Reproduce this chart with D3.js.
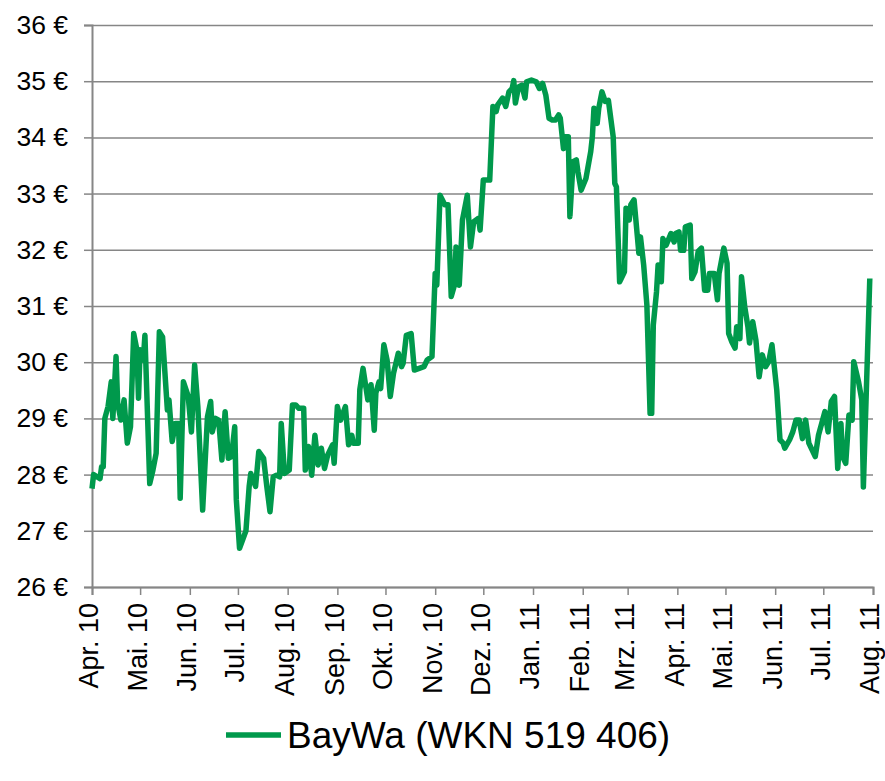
<!DOCTYPE html>
<html>
<head>
<meta charset="utf-8">
<script src="https://cdn.jsdelivr.net/npm/d3@7"></script>
<style>
  body { margin: 0; background: #fff; }
  text { font-family: "Liberation Sans", Arial, sans-serif; fill: #000; }
</style>
</head>
<body>
<div id="chart"></div>
<script>
// BayWa share price, Apr 2010 - Aug 2011
const dates = [
  "2010-04-01","2010-04-02","2010-04-06","2010-04-07","2010-04-08","2010-04-09","2010-04-11","2010-04-13","2010-04-14","2010-04-16",
  "2010-04-17","2010-04-19","2010-04-21","2010-04-23","2010-04-25","2010-04-27","2010-04-29","2010-04-30","2010-05-01","2010-05-03",
  "2010-05-04","2010-05-07","2010-05-09","2010-05-11","2010-05-13","2010-05-15","2010-05-18","2010-05-19","2010-05-21","2010-05-23",
  "2010-05-25","2010-05-26","2010-05-28","2010-05-31","2010-06-02","2010-06-04","2010-06-06","2010-06-09","2010-06-12","2010-06-14",
  "2010-06-15","2010-06-17","2010-06-19","2010-06-21","2010-06-23","2010-06-25","2010-06-27","2010-06-29","2010-06-30","2010-07-02",
  "2010-07-06","2010-07-08","2010-07-09","2010-07-12","2010-07-14","2010-07-17","2010-07-19","2010-07-21","2010-07-23","2010-07-25",
  "2010-07-27","2010-07-28","2010-07-30","2010-08-02","2010-08-04","2010-08-06","2010-08-08","2010-08-11","2010-08-12","2010-08-14",
  "2010-08-16","2010-08-18","2010-08-20","2010-08-22","2010-08-24","2010-08-26","2010-08-29","2010-08-30","2010-09-01","2010-09-03",
  "2010-09-06","2010-09-08","2010-09-10","2010-09-11","2010-09-14","2010-09-15","2010-09-17","2010-09-20","2010-09-22","2010-09-24",
  "2010-09-25","2010-09-27","2010-09-28","2010-09-30","2010-10-02","2010-10-04","2010-10-06","2010-10-09","2010-10-11","2010-10-12",
  "2010-10-14","2010-10-17","2010-10-19","2010-10-22","2010-10-25","2010-10-27","2010-10-30","2010-11-01","2010-11-02","2010-11-04",
  "2010-11-07","2010-11-09","2010-11-11","2010-11-13","2010-11-14","2010-11-16","2010-11-18","2010-11-21","2010-11-23","2010-11-25",
  "2010-11-28","2010-11-29","2010-12-01","2010-12-05","2010-12-07","2010-12-09","2010-12-10","2010-12-13","2010-12-15","2010-12-17",
  "2010-12-19","2010-12-20","2010-12-21","2010-12-23","2010-12-25","2010-12-27","2010-12-28","2010-12-31","2011-01-03","2011-01-05",
  "2011-01-07","2011-01-09","2011-01-11","2011-01-13","2011-01-15","2011-01-17","2011-01-18","2011-01-20","2011-01-21","2011-01-23",
  "2011-01-24","2011-01-26","2011-01-28","2011-01-29","2011-01-31","2011-02-03","2011-02-06","2011-02-07","2011-02-08","2011-02-10",
  "2011-02-11","2011-02-13","2011-02-15","2011-02-17","2011-02-20","2011-02-21","2011-02-22","2011-02-24","2011-02-25","2011-02-27",
  "2011-02-28","2011-03-01","2011-03-02","2011-03-03","2011-03-05","2011-03-07","2011-03-08","2011-03-09","2011-03-11","2011-03-13",
  "2011-03-15","2011-03-16","2011-03-17","2011-03-19","2011-03-20","2011-03-22","2011-03-23","2011-03-25","2011-03-28","2011-03-30",
  "2011-03-31","2011-04-02","2011-04-03","2011-04-05","2011-04-06","2011-04-09","2011-04-10","2011-04-12","2011-04-14","2011-04-16",
  "2011-04-18","2011-04-20","2011-04-21","2011-04-24","2011-04-26","2011-04-27","2011-04-30","2011-05-02","2011-05-03","2011-05-05",
  "2011-05-07","2011-05-08","2011-05-10","2011-05-11","2011-05-13","2011-05-15","2011-05-16","2011-05-18","2011-05-20","2011-05-22",
  "2011-05-24","2011-05-26","2011-05-28","2011-05-30","2011-06-02","2011-06-04","2011-06-06","2011-06-07","2011-06-10","2011-06-12",
  "2011-06-14","2011-06-16","2011-06-18","2011-06-20","2011-06-22","2011-06-24","2011-06-26","2011-06-28","2011-06-30","2011-07-02",
  "2011-07-04","2011-07-06","2011-07-08","2011-07-10","2011-07-12","2011-07-13","2011-07-15","2011-07-17","2011-07-19","2011-07-20",
  "2011-07-23","2011-07-25","2011-07-26","2011-07-30"
];
const prices = [
  27.75,28.00,27.93,28.14,28.14,29.00,29.21,29.65,29.00,30.10,
  29.27,28.97,29.33,28.56,28.85,30.51,30.22,29.36,30.22,30.04,
  30.48,27.84,28.08,28.38,30.54,30.45,29.15,29.33,28.59,28.91,
  28.91,27.58,29.65,29.39,28.76,29.95,29.21,27.37,29.03,29.30,
  28.76,29.00,28.97,28.26,29.12,28.29,28.32,28.85,27.55,26.69,
  27.00,27.79,28.02,27.79,28.41,28.29,27.79,27.34,27.96,27.99,
  27.96,28.91,28.02,28.08,29.24,29.24,29.18,29.18,28.08,28.50,
  27.99,28.70,28.17,28.47,28.11,28.35,28.53,28.20,29.21,28.97,
  29.21,28.53,28.70,28.56,28.56,29.51,29.89,29.33,29.60,28.79,
  29.45,29.65,29.53,30.31,30.04,29.39,29.80,30.16,29.92,29.98,
  30.48,30.51,29.86,29.89,29.92,30.04,30.10,31.58,31.37,32.97,
  32.80,32.80,31.17,31.37,32.05,31.37,32.53,32.97,32.05,32.50,
  32.56,32.35,33.24,33.24,34.55,34.46,34.58,34.70,34.55,34.81,
  34.87,35.01,34.61,34.90,34.93,34.70,34.99,35.02,34.99,34.87,
  34.96,34.75,34.34,34.31,34.31,34.40,34.34,33.80,34.01,34.01,
  32.59,33.57,33.60,33.39,33.06,33.27,33.75,34.01,34.52,34.25,
  34.52,34.81,34.64,34.66,34.01,33.18,33.12,31.43,31.49,31.61,
  32.74,32.71,32.53,32.80,32.89,32.26,31.94,32.23,31.73,31.02,
  29.09,29.09,30.66,31.25,31.73,31.43,32.20,32.08,32.29,32.14,
  32.29,32.32,31.99,31.99,32.41,32.44,31.49,31.61,31.97,32.03,
  31.28,31.28,31.58,31.58,31.11,31.58,32.03,31.76,30.51,30.36,
  30.25,30.63,30.42,31.52,30.99,30.63,30.34,30.72,30.39,29.74,
  30.13,29.92,30.01,30.31,29.50,28.62,28.56,28.47,28.62,28.76,
  28.97,28.97,28.64,28.97,28.56,28.44,28.32,28.70,28.91,29.12,
  28.76,29.30,29.39,28.11,28.91,28.32,28.20,29.06,28.97,30.01,
  29.65,29.33,27.78,31.49
];
const monthLabels = ["Jan.","Feb.","Mrz.","Apr.","Mai.","Jun.","Jul.","Aug.","Sep.","Okt.","Nov.","Dez."];
const yTicks = [26, 27, 28, 29, 30, 31, 32, 33, 34, 35, 36];
const seriesName = "BayWa (WKN 519 406)";

const width = 885, height = 781;
const margin = {top: 25, right: 12, bottom: 194, left: 92};
const parse = d3.timeParse("%Y-%m-%d");
const data = dates.map((d, i) => ({date: parse(d), value: prices[i]}));

const green = "#00994c";
const grey = "#868686";

const svg = d3.select("#chart").append("svg")
    .attr("width", width)
    .attr("height", height);

const x = d3.scaleTime()
    .domain([parse("2010-04-01"), parse("2011-08-01")])
    .range([margin.left, width - margin.right]);
const y = d3.scaleLinear()
    .domain([26, 36])
    .range([height - margin.bottom, margin.top]);

// horizontal gridlines + y axis
let yAxis = d3.axisLeft(y)
    .tickValues(yTicks)
    .tickSize(8)
    .tickPadding(16)
    .tickFormat(d => d + " €");
let gy = svg.append("g").attr("transform", `translate(${margin.left},0)`).call(yAxis);
gy.selectAll(".tick line").attr("stroke", grey).attr("stroke-width", 1.5)
    .clone().attr("x1", 0).attr("x2", width - margin.right - margin.left);
gy.select(".domain").attr("stroke", grey).attr("stroke-width", 2);
gy.selectAll(".tick text").style("font-size", "26.5px");

// x axis with German month labels
let xAxis = d3.axisBottom(x)
    .ticks(d3.timeMonth.every(1))
    .tickSize(8)
    .tickFormat(d => monthLabels[d.getMonth()] + " " + d3.timeFormat("%y")(d));
let gx = svg.append("g").attr("transform", `translate(0,${y(26)})`).call(xAxis);
gx.select(".domain").attr("stroke", grey).attr("stroke-width", 2);
gx.selectAll(".tick line").attr("stroke", grey).attr("stroke-width", 1.5);
gx.selectAll(".tick text")
    .style("font-size", "27px")
    .attr("text-anchor", "end")
    .attr("transform", "rotate(-90)")
    .attr("x", -16)
    .attr("y", 0)
    .attr("dy", "0.22em");

// price line
const line = d3.line()
    .x(d => x(d.date))
    .y(d => y(d.value));
svg.append("path")
    .datum(data)
    .attr("fill", "none")
    .attr("stroke", green)
    .attr("stroke-width", 5.5)
    .attr("stroke-linejoin", "round")
    .attr("d", line);

// legend
let legend = svg.append("g").attr("transform", "translate(226,735)");
legend.append("line")
    .attr("x1", 0).attr("x2", 55)
    .attr("stroke", green).attr("stroke-width", 5.5);
legend.append("text")
    .attr("x", 61)
    .attr("dy", "0.35em")
    .style("font-size", "37px")
    .text(seriesName);
</script>
</body>
</html>
